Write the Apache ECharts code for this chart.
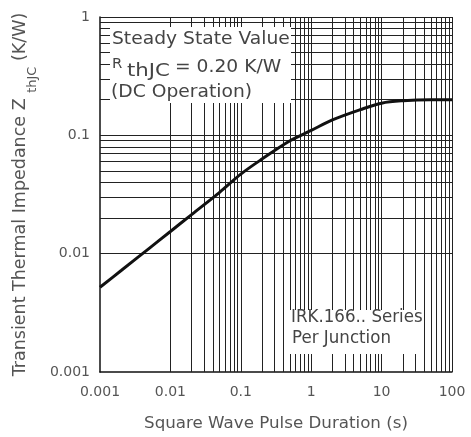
<!DOCTYPE html>
<html><head><meta charset="utf-8">
<script src="https://cdn.jsdelivr.net/npm/echarts@6/dist/echarts.min.js"></script>
<style>html,body{margin:0;padding:0;background:#fff}#c{width:471px;height:437px}</style>
</head><body><div id="c"></div>
<script>
// Transient thermal impedance curve (log-log)
const pulseDuration = [0.001, 0.002, 0.005, 0.01, 0.02, 0.05, 0.1, 0.2, 0.5, 1, 2, 5, 10, 20, 50, 100];
const thermalImpedance = [0.0052, 0.0072, 0.0111, 0.0154, 0.0214, 0.033, 0.047, 0.063, 0.09, 0.11, 0.135, 0.165, 0.187, 0.196, 0.2, 0.2];
const xTickLabels = ['0.001', '0.01', '0.1', '1', '10', '100'];
const yTickLabels = ['0.001', '0.01', '0.1', '1'];
const xDecades = [0.001, 0.01, 0.1, 1, 10];
const yDecades = [0.001, 0.01, 0.1];
const gridSteps = [1, 2, 3, 4, 5, 6, 7, 8, 9];

const FONT = '"DejaVu Sans", sans-serif';
const TEXT = '#555';
const NOTE = '#444';

const xGrid = [];
xDecades.forEach(d => gridSteps.forEach(s => xGrid.push(+(d * s).toPrecision(3))));
xGrid.push(100);
const yGrid = [];
yDecades.forEach(d => gridSteps.forEach(s => yGrid.push(+(d * s).toPrecision(3))));
yGrid.push(1);

function pickLabel(list) {
  return v => list.find(t => Math.abs(Math.log10(+t) - Math.log10(v)) < 1e-6) || '';
}

// note text, slightly widened
function note(x, y, text, size, sx) {
  return {
    type: 'text', z: 51, x: x, y: y, scaleX: sx,
    style: { text: text, font: size + 'px ' + FONT, fill: NOTE, verticalAlign: 'top', align: 'left' }
  };
}

const chart = echarts.init(document.getElementById('c'), null, { renderer: 'canvas' });
chart.setOption({
  animation: false,
  backgroundColor: '#fff',
  grid: { left: 100, top: 17, width: 352, height: 355 },
  xAxis: {
    type: 'log', logBase: 10, min: 0.001, max: 100,
    name: 'Square Wave Pulse Duration (s)', nameLocation: 'middle', nameGap: 43,
    nameTextStyle: { fontFamily: FONT, fontSize: 16.7, color: TEXT },
    axisLine: { show: true, onZero: false, lineStyle: { color: '#111', width: 1.5 } },
    axisTick: { show: false },
    splitLine: { show: false },
    minorTick: { show: false },
    axisLabel: { fontFamily: FONT, fontSize: 14, color: TEXT, margin: 13, formatter: pickLabel(xTickLabels), showMinLabel: true, showMaxLabel: true }
  },
  yAxis: {
    type: 'log', logBase: 10, min: 0.001, max: 1,
    name: '{a|Transient Thermal Impedance Z }{s|thJC}{a| (K/W)}', nameLocation: 'middle', nameGap: 58, nameRotate: 90,
    nameTextStyle: {
      fontFamily: FONT, color: TEXT,
      rich: {
        a: { fontFamily: FONT, fontSize: 17.5, color: TEXT, lineHeight: 20, verticalAlign: 'top' },
        s: { fontFamily: FONT, fontSize: 13, color: TEXT, lineHeight: 28, verticalAlign: 'bottom' }
      }
    },
    axisLine: { show: true, onZero: false, lineStyle: { color: '#111', width: 1.5 } },
    axisTick: { show: false },
    splitLine: { show: false },
    minorTick: { show: false },
    axisLabel: { fontFamily: FONT, fontSize: 14, color: TEXT, margin: 10, formatter: pickLabel(yTickLabels), showMinLabel: true, showMaxLabel: true }
  },
  graphic: [
    { type: 'rect', z: 50, shape: { x: 110, y: 27, width: 181, height: 76 }, style: { fill: '#fff' } },
    note(112, 31, 'Steady State Value', 17, 1.1),
    note(112, 57, 'R', 13.5, 1.1),
    note(127, 63.5, 'thJC', 17, 1.25),
    note(175, 59.5, '= 0.20 K/W', 17, 1.1),
    note(111, 84, '(DC Operation)', 17, 1.1),
    { type: 'rect', z: 50, shape: { x: 290, y: 310, width: 132, height: 44 }, style: { fill: '#fff' } },
    note(291, 309, 'IRK.166.. Series', 17, 0.98),
    note(292, 330, 'Per Junction', 17, 0.98)
  ],
  series: [
    {
      name: 'grid', type: 'line', z: 1, silent: true, symbol: 'none',
      data: [[0.001, 0.001]], lineStyle: { width: 0 },
      markLine: {
        silent: true, symbol: 'none', animation: false,
        label: { show: false },
        lineStyle: { color: '#222', width: 1, type: 'solid' },
        data: xGrid.map(v => ({ xAxis: v })).concat(yGrid.map(v => ({ yAxis: v })))
      }
    },
    {
      name: 'ZthJC', type: 'line', z: 5, smooth: 0.35, symbol: 'none',
      lineStyle: { color: '#111', width: 3 },
      data: pulseDuration.map((x, i) => [x, thermalImpedance[i]])
    }
  ]
});
</script></body></html>
